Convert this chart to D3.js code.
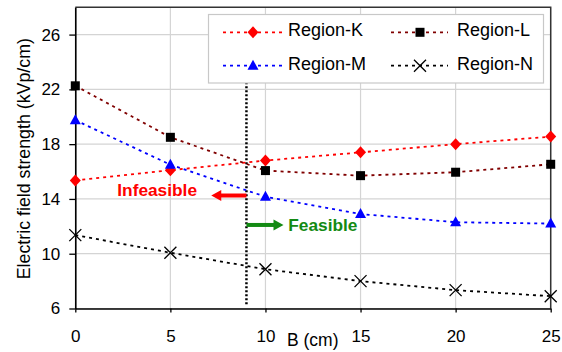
<!DOCTYPE html>
<html>
<head>
<meta charset="utf-8">
<script src="https://cdn.jsdelivr.net/npm/d3@7"></script>
<style>
  body { margin: 0; background: #fff; }
  svg { display: block; font-family: "Liberation Sans", Arial, sans-serif; }
</style>
</head>
<body>
<div id="chart"></div>
<script>
// data
const bValues = [0, 5, 10, 15, 20, 25];
const regionK = [15.35, 16.1, 16.8, 17.4, 18.0, 18.55];
const regionL = [22.26, 18.5, 16.07, 15.7, 15.95, 16.53];
const regionM = [19.75, 16.5, 14.16, 12.9, 12.3, 12.2];
const regionN = [11.36, 10.07, 8.87, 8.0, 7.34, 6.9];
const xTicks = [0, 5, 10, 15, 20, 25];
const yTicks = [6, 10, 14, 18, 22, 26];
const boundaryB = 9;
const boundaryRange = [6.2, 23.1];

const width = 562, height = 352;
const margin = { left: 75.3, right: 11.3, top: 7.2, bottom: 43.5 };

const x = d3.scaleLinear().domain([0, 25]).range([margin.left, width - margin.right]);
const y = d3.scaleLinear().domain([6, 28]).range([height - margin.bottom, margin.top]);

const svg = d3.select('#chart').append('svg')
    .attr('width', width)
    .attr('height', height);

// grid
const grid = svg.append('g').attr('class', 'grid');
grid.selectAll('line.gx')
    .data(xTicks)
    .join('line')
    .attr('class', 'gx')
    .attr('x1', d => x(d)).attr('x2', d => x(d))
    .attr('y1', y(28)).attr('y2', y(6))
    .attr('stroke', '#d4d4d4').attr('stroke-width', 1.2);
grid.selectAll('line.gy')
    .data(yTicks)
    .join('line')
    .attr('class', 'gy')
    .attr('x1', x(0)).attr('x2', x(25))
    .attr('y1', d => y(d)).attr('y2', d => y(d))
    .attr('stroke', '#d4d4d4').attr('stroke-width', 1.2);

// frame top/right
svg.append('path')
    .attr('d', `M${x(0)},${y(28)}H${x(25)}V${y(6)}`)
    .attr('fill', 'none')
    .attr('stroke', '#333')
    .attr('stroke-width', 1.5);

// axes
const yAxis = svg.append('g')
    .attr('transform', `translate(${x(0)},0)`)
    .call(d3.axisLeft(y).tickValues(yTicks).tickSize(6).tickPadding(9).tickSizeOuter(0));
const xAxis = svg.append('g')
    .attr('transform', `translate(0,${y(6)})`)
    .call(d3.axisBottom(x).tickValues(xTicks).tickSize(4).tickPadding(17).tickSizeOuter(0));
[xAxis, yAxis].forEach(a => {
    a.select('.domain').attr('stroke', '#000').attr('stroke-width', 1.6);
    a.selectAll('.tick line').attr('stroke', '#000').attr('stroke-width', 1.3);
    a.selectAll('.tick text')
        .attr('font-size', 17)
        .attr('font-family', '"Liberation Sans", Arial, sans-serif')
        .attr('fill', '#000');
});

// axis titles
svg.append('text')
    .attr('transform', `translate(29.5,${158.7}) rotate(-90)`)
    .attr('text-anchor', 'middle')
    .attr('font-size', 17.8)
    .text('Electric field strength (kVp/cm)');
svg.append('text')
    .attr('x', 287)
    .attr('y', 346)
    .attr('font-size', 17.5)
    .text('B (cm)');

// marker shapes
const markers = {
    diamond: g => g.append('path').attr('d', 'M0,-6L5.5,0L0,6L-5.5,0Z').attr('fill', '#ff0000'),
    square: g => g.append('rect').attr('x', -4.5).attr('y', -4.5).attr('width', 9).attr('height', 9).attr('fill', '#000'),
    triangle: g => g.append('path').attr('d', 'M0,-6L5.5,4L-5.5,4Z').attr('fill', '#0000ff'),
    cross: g => g.append('path').attr('d', 'M-6,-6L6,6M-6,6L6,-6').attr('stroke', '#000').attr('stroke-width', 1.3).attr('fill', 'none')
};

const series = [
    { name: 'Region-K', values: regionK, color: '#ff0000', marker: 'diamond' },
    { name: 'Region-L', values: regionL, color: '#800000', marker: 'square' },
    { name: 'Region-M', values: regionM, color: '#0000ff', marker: 'triangle' },
    { name: 'Region-N', values: regionN, color: '#000000', marker: 'cross' }
];

const line = d3.line().x(d => x(d[0])).y(d => y(d[1]));

// boundary line
svg.append('line')
    .attr('x1', x(boundaryB)).attr('x2', x(boundaryB))
    .attr('y1', y(boundaryRange[1])).attr('y2', y(boundaryRange[0]))
    .attr('stroke', '#000')
    .attr('stroke-width', 2.5)
    .attr('stroke-dasharray', '2,2');

series.forEach(s => {
    const pts = bValues.map((b, i) => [b, s.values[i]]);
    svg.append('path')
        .datum(pts)
        .attr('d', line)
        .attr('fill', 'none')
        .attr('stroke', s.color)
        .attr('stroke-width', 1.8)
        .attr('stroke-dasharray', '3,4');
    pts.forEach(p => {
        const g = svg.append('g').attr('transform', `translate(${x(p[0])},${y(p[1])})`);
        markers[s.marker](g);
    });
});

// arrows + labels
function arrow(x1, x2, yy, color) {
    const dir = Math.sign(x2 - x1);
    const px1 = x(x1), px2 = x(x2), py = y(yy);
    svg.append('line')
        .attr('x1', px1).attr('x2', px2 - dir * 9)
        .attr('y1', py).attr('y2', py)
        .attr('stroke', color).attr('stroke-width', 4);
    svg.append('path')
        .attr('d', `M${px2},${py}L${px2 - dir * 10},${py - 5.5}L${px2 - dir * 10},${py + 5.5}Z`)
        .attr('fill', color);
}
arrow(boundaryB, 7.15, 14.25, '#ff0000');
arrow(boundaryB, 10.95, 12.1, '#138a13');

svg.append('text')
    .attr('x', x(6.4)).attr('y', y(14.18))
    .attr('text-anchor', 'end')
    .attr('font-size', 17.3).attr('font-weight', 'bold')
    .attr('fill', '#ff0000')
    .text('Infeasible');
svg.append('text')
    .attr('x', x(11.2)).attr('y', y(11.67))
    .attr('font-size', 17.3).attr('font-weight', 'bold')
    .attr('fill', '#138a13')
    .text('Feasible');

// legend
const legend = svg.append('g');
legend.append('rect')
    .attr('x', 208.5).attr('y', 14.5).attr('width', 335).attr('height', 68.5)
    .attr('fill', '#fff').attr('stroke', '#c8c8c8').attr('stroke-width', 1.2);
const legendPos = [
    { lx: 223, mx: 253, rx: 283, tx: 288, ty: 32.3 },
    { lx: 391, mx: 420, rx: 448, tx: 457, ty: 32.3 },
    { lx: 223, mx: 253, rx: 283, tx: 288, ty: 65.7 },
    { lx: 391, mx: 420, rx: 448, tx: 457, ty: 65.7 }
];
series.forEach((s, i) => {
    const p = legendPos[i];
    legend.append('line')
        .attr('x1', p.lx).attr('x2', p.rx)
        .attr('y1', p.ty).attr('y2', p.ty)
        .attr('stroke', s.color).attr('stroke-width', 1.8)
        .attr('stroke-dasharray', '3,4');
    const g = legend.append('g').attr('transform', `translate(${p.mx},${p.ty})`);
    markers[s.marker](g);
    legend.append('text')
        .attr('x', p.tx).attr('y', p.ty + 4)
        .attr('font-size', 18)
        .text(s.name);
});
</script>
</body>
</html>
